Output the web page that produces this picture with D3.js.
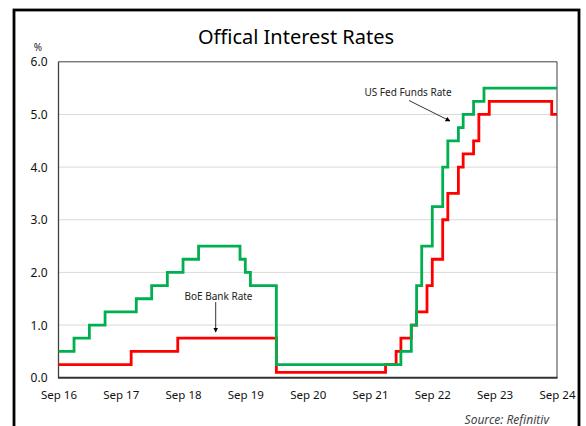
<!DOCTYPE html>
<html>
<head>
<meta charset="utf-8">
<script src="https://cdn.jsdelivr.net/npm/d3@7"></script>
<style>
  html, body { margin: 0; padding: 0; background: #fff; }
  svg { display: block; }
  text { font-family: "Noto Sans", "Open Sans", sans-serif; }
</style>
</head>
<body>
<svg id="chart" width="586" height="426"></svg>
<script>
// ---- Data ----
const title = "Offical Interest Rates";
const yTicks = [0, 1, 2, 3, 4, 5, 6];
const xTickLabels = ["Sep 16","Sep 17","Sep 18","Sep 19","Sep 20","Sep 21","Sep 22","Sep 23","Sep 24"];
const xTickDates = ["2016-09-01","2017-09-01","2018-09-01","2019-09-01","2020-09-01","2021-09-01","2022-09-01","2023-09-01","2024-09-01"];

// US Fed Funds Rate (upper bound) change points
const fedDates = ["2016-09-01","2016-12-01","2017-03-01","2017-06-01","2017-12-01","2018-03-01","2018-06-01","2018-09-01","2018-12-01","2019-08-01","2019-09-01","2019-10-01","2020-03-01","2022-03-01","2022-05-01","2022-06-01","2022-07-01","2022-09-01","2022-11-01","2022-12-01","2023-02-01","2023-03-01","2023-05-01","2023-07-01","2024-09-01"];
const fedRates = [0.5,0.75,1.0,1.25,1.5,1.75,2.0,2.25,2.5,2.25,2.0,1.75,0.25,0.5,1.0,1.75,2.5,3.25,4.0,4.5,4.75,5.0,5.25,5.5,5.5];

// BoE Bank Rate change points
const boeDates = ["2016-09-01","2017-11-01","2018-08-01","2020-03-01","2021-12-01","2022-02-01","2022-03-01","2022-05-01","2022-06-01","2022-08-01","2022-09-01","2022-11-01","2022-12-01","2023-02-01","2023-03-01","2023-05-01","2023-06-01","2023-08-01","2024-08-01","2024-09-01"];
const boeRates = [0.25,0.5,0.75,0.1,0.25,0.5,0.75,1.0,1.25,1.75,2.25,3.0,3.5,4.0,4.25,4.5,5.0,5.25,5.0,5.0];

const fedLabel = "US Fed Funds Rate";
const boeLabel = "BoE Bank Rate";
const sourceText = "Source: Refinitiv";

// ---- Drawing ----
const parse = d3.timeParse("%Y-%m-%d");
const svg = d3.select("#chart");

const plot = { left: 58.5, right: 557, top: 61.8, bottom: 377.7 };

const x = d3.scaleTime()
  .domain([parse("2016-09-01"), parse("2024-09-01")])
  .range([plot.left, plot.right]);
const y = d3.scaleLinear()
  .domain([0, 6])
  .range([plot.bottom, plot.top]);

// outer frame
svg.append("rect")
  .attr("x", 14).attr("y", 10)
  .attr("width", 565).attr("height", 430)
  .attr("fill", "#fff").attr("stroke", "#000").attr("stroke-width", 2.8);

// title
svg.append("text")
  .attr("x", 296).attr("y", 44)
  .attr("text-anchor", "middle")
  .attr("font-size", 20)
  .attr("fill", "#000")
  .text(title);

// % unit label
svg.append("text")
  .attr("x", 38).attr("y", 51)
  .attr("text-anchor", "middle")
  .attr("font-size", 10)
  .attr("fill", "#222")
  .text("%");

// gridlines
svg.append("g")
  .selectAll("line")
  .data(yTicks.filter(d => d > 0 && d < 6))
  .join("line")
  .attr("x1", plot.left).attr("x2", plot.right)
  .attr("y1", d => y(d)).attr("y2", d => y(d))
  .attr("stroke", "#d9d9d9").attr("stroke-width", 1);

// y axis
const yAxis = d3.axisLeft(y)
  .tickValues(yTicks)
  .tickFormat(d3.format(".1f"))
  .tickSize(0)
  .tickPadding(11);
const gy = svg.append("g")
  .attr("transform", `translate(${plot.left},0)`)
  .call(yAxis);
gy.select(".domain").remove();
gy.selectAll("text")
  .attr("font-family", "'Noto Sans', sans-serif")
  .attr("font-size", 12)
  .attr("fill", "#111")
  .attr("dy", "0.34em");

// x axis
const xAxis = d3.axisBottom(x)
  .tickValues(xTickDates.map(parse))
  .tickFormat((d, i) => xTickLabels[i])
  .tickSize(0)
  .tickPadding(13);
const gx = svg.append("g")
  .attr("transform", `translate(0,${plot.bottom})`)
  .call(xAxis);
gx.select(".domain").remove();
gx.selectAll("text")
  .attr("font-family", "'Noto Sans', sans-serif")
  .attr("font-size", 11.5)
  .attr("fill", "#111");

// plot frame
svg.append("line").attr("x1", plot.left).attr("x2", plot.right)
  .attr("y1", plot.top).attr("y2", plot.top)
  .attr("stroke", "#404040").attr("stroke-width", 1);
svg.append("line").attr("x1", plot.right).attr("x2", plot.right)
  .attr("y1", plot.top).attr("y2", plot.bottom)
  .attr("stroke", "#404040").attr("stroke-width", 1);
svg.append("line").attr("x1", plot.left).attr("x2", plot.left)
  .attr("y1", plot.top).attr("y2", plot.bottom)
  .attr("stroke", "#404040").attr("stroke-width", 1.3);

// series
const line = d3.line()
  .x(d => x(d.date))
  .y(d => y(d.value))
  .curve(d3.curveStepAfter);

const boe = boeDates.map((d, i) => ({ date: parse(d), value: boeRates[i] }));
const fed = fedDates.map((d, i) => ({ date: parse(d), value: fedRates[i] }));

svg.append("path")
  .datum(boe)
  .attr("d", line)
  .attr("fill", "none")
  .attr("stroke", "#ff0000")
  .attr("stroke-width", 2.8)
  .attr("stroke-linejoin", "miter");

svg.append("path")
  .datum(fed)
  .attr("d", line)
  .attr("fill", "none")
  .attr("stroke", "#00b050")
  .attr("stroke-width", 2.8)
  .attr("stroke-linejoin", "miter");

// bottom axis line (on top)
svg.append("line").attr("x1", plot.left - 0.5).attr("x2", plot.right + 0.5)
  .attr("y1", plot.bottom).attr("y2", plot.bottom)
  .attr("stroke", "#333").attr("stroke-width", 2);

// arrow marker
const defs = svg.append("defs");
defs.append("marker")
  .attr("id", "arrow")
  .attr("viewBox", "0 0 10 10")
  .attr("refX", 9).attr("refY", 5)
  .attr("markerWidth", 5).attr("markerHeight", 5)
  .attr("markerUnits", "userSpaceOnUse")
  .attr("orient", "auto")
  .append("path")
  .attr("d", "M0,0 L10,5 L0,10 Z")
  .attr("fill", "#000");

// annotations
svg.append("text")
  .attr("x", 408).attr("y", 96.3)
  .attr("text-anchor", "middle")
  .attr("font-size", 10)
  .attr("fill", "#222")
  .text(fedLabel);
svg.append("line")
  .attr("x1", 409).attr("y1", 100.5)
  .attr("x2", 450).attr("y2", 121)
  .attr("stroke", "#000").attr("stroke-width", 0.8)
  .attr("marker-end", "url(#arrow)");

svg.append("text")
  .attr("x", 218.5).attr("y", 299.6)
  .attr("text-anchor", "middle")
  .attr("font-size", 10)
  .attr("fill", "#222")
  .text(boeLabel);
svg.append("line")
  .attr("x1", 215.7).attr("y1", 302)
  .attr("x2", 215.7).attr("y2", 332)
  .attr("stroke", "#000").attr("stroke-width", 0.8)
  .attr("marker-end", "url(#arrow)");

// source
svg.append("text")
  .attr("x", 549).attr("y", 423.5)
  .attr("text-anchor", "end")
  .attr("font-size", 12)
  .attr("font-style", "italic")
  .attr("fill", "#444")
  .text(sourceText);
</script>
</body>
</html>
